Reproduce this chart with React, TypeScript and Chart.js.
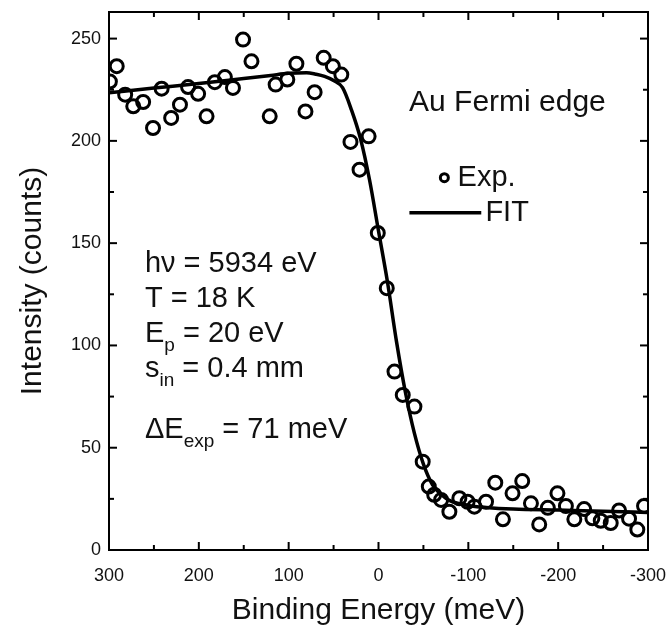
import React, { useEffect, useRef } from "react";
import { Chart, registerables } from "chart.js";

Chart.register(...registerables);

// ---- data ----
const expEnergy = [
  299, 291.4, 282, 273, 262, 251, 241.4, 230.8, 221, 212, 200.8, 191.4, 182.2, 171, 162,
  150.8, 141.4, 121.1, 114.5, 101.5, 91.4, 81.3, 71.1, 61, 50.8, 41.4, 31.2, 21.1, 11, 0.8,
  -9.2, -17.8, -27, -40, -49.2, -56, -62, -69.7, -78.9, -90, -99.2, -106.7, -119.7, -130,
  -138.5, -149.2, -160, -169.7, -178.9, -188.5, -199.2, -208.6, -218, -228.9, -238.1,
  -247.4, -258.5, -267.8, -278.9, -288.1, -295.6,
];
const expCounts = [
  229, 236.5, 222.6, 216.9, 219, 206.3, 225.5, 211.2, 217.7, 226.3, 223, 212, 228.7, 231.2, 225.9,
  249.5, 238.9, 212, 227.5, 230, 237.7, 214.4, 223.8, 240.6, 236.5, 232.4, 199.5, 185.9, 202.2, 155,
  128, 87.2, 75.8, 70.1, 43.2, 31, 27, 24.5, 18.7, 25.3, 23.6, 21.2, 23.6, 32.9,
  15, 27.7, 33.7, 22.8, 12.5, 20.6, 27.7, 21.5, 15, 20, 15.5,
  14.3, 13.2, 19.3, 15.3, 10, 21.5,
];
const fitEnergy = [
  300, 250, 200, 150, 120, 100, 80, 70, 60, 50, 40, 30, 20, 10, 0, -10, -20, -30, -40, -50,
  -60, -70, -80, -100, -120, -150, -200, -250, -300,
];
const fitCounts = [
  223.5, 225.8, 228, 230.5, 232, 233, 233.3, 232.6, 231.5, 229.5, 226, 215, 201, 181, 156, 131,
  102, 77, 57, 42, 32, 27, 24, 21.8, 20.8, 20, 19.5, 19, 18.3,
];
const xMajorTicks = [300, 200, 100, 0, -100, -200, -300];
const xMinorTicks = [250, 150, 50, -50, -150, -250];
const yMajorTicks = [0, 50, 100, 150, 200, 250];
const yMinorTicks = [25, 75, 125, 175, 225];
const xTitle = "Binding Energy (meV)";
const yTitle = "Intensity (counts)";
const boxTitle = "Au Fermi edge";
const legendLabels = ["Exp.", "FIT"];
// each info line: [main, subscript, rest]
const infoLines: [string, string, string][] = [
  ["h\u03bd = 5934 eV", "", ""],
  ["T = 18 K", "", ""],
  ["E", "p", " = 20 eV"],
  ["s", "in", " = 0.4 mm"],
  ["\u0394E", "exp", " = 71 meV"],
];

const FONT = '"Liberation Sans", Arial, Helvetica, sans-serif';
const INK = "#111";

const framePlugin = {
  id: "frameTicks",
  afterDatasetsDraw(chart: any) {
    const { ctx, chartArea, scales } = chart;
    const { left, right, top, bottom } = chartArea;
    const x = scales.x;
    const y = scales.y;
    ctx.save();
    ctx.strokeStyle = "#000";
    ctx.lineWidth = 2;
    ctx.strokeRect(left, top, right - left, bottom - top);
    const seg = (x1: number, y1: number, x2: number, y2: number) => {
      ctx.beginPath();
      ctx.moveTo(x1, y1);
      ctx.lineTo(x2, y2);
      ctx.stroke();
    };
    const major = 8;
    const minor = 5;
    xMajorTicks.forEach((v) => {
      const p = x.getPixelForValue(v);
      seg(p, bottom, p, bottom - major);
      seg(p, top, p, top + major);
    });
    xMinorTicks.forEach((v) => {
      const p = x.getPixelForValue(v);
      seg(p, bottom, p, bottom - minor);
      seg(p, top, p, top + minor);
    });
    yMajorTicks.forEach((v) => {
      const p = y.getPixelForValue(v);
      seg(left, p, left + major, p);
      seg(right, p, right - major, p);
    });
    yMinorTicks.forEach((v) => {
      const p = y.getPixelForValue(v);
      seg(left, p, left + minor, p);
      seg(right, p, right - minor, p);
    });
    ctx.restore();
  },
};

const textPlugin = {
  id: "annotations",
  afterDraw(chart: any) {
    const { ctx, scales } = chart;
    const x = scales.x;
    const y = scales.y;
    ctx.save();
    ctx.fillStyle = INK;
    ctx.textBaseline = "alphabetic";
    ctx.textAlign = "left";
    const big = 29;
    const small = 19;
    // box title
    ctx.font = `30px ${FONT}`;
    ctx.fillText(boxTitle, x.getPixelForValue(-34), y.getPixelForValue(214.5));
    ctx.font = `${big}px ${FONT}`;
    // legend
    const lx = x.getPixelForValue(-73.3);
    const ly1 = y.getPixelForValue(182);
    ctx.strokeStyle = "#000";
    ctx.lineWidth = 3;
    ctx.beginPath();
    ctx.arc(lx, ly1, 4, 0, Math.PI * 2);
    ctx.stroke();
    ctx.textBaseline = "middle";
    ctx.fillText(legendLabels[0], x.getPixelForValue(-88), ly1);
    const ly2 = y.getPixelForValue(164.9);
    ctx.lineWidth = 3.5;
    ctx.beginPath();
    ctx.moveTo(x.getPixelForValue(-34.4), ly2);
    ctx.lineTo(x.getPixelForValue(-114.4), ly2);
    ctx.stroke();
    ctx.fillText(legendLabels[1], x.getPixelForValue(-119), ly2);
    // info block
    ctx.textBaseline = "alphabetic";
    const bx = x.getPixelForValue(260);
    const baselines = [136, 119, 101.5, 84.5, 54.8];
    infoLines.forEach((parts, i) => {
      const by = y.getPixelForValue(baselines[i]);
      let cx = bx;
      ctx.font = `${big}px ${FONT}`;
      ctx.fillText(parts[0], cx, by);
      cx += ctx.measureText(parts[0]).width;
      if (parts[1]) {
        ctx.font = `${small}px ${FONT}`;
        ctx.fillText(parts[1], cx, by + 9);
        cx += ctx.measureText(parts[1]).width;
        ctx.font = `${big}px ${FONT}`;
        ctx.fillText(parts[2], cx, by);
      }
    });
    ctx.restore();
  },
};

export default function App() {
  const ref = useRef<HTMLCanvasElement | null>(null);
  useEffect(() => {
    if (!ref.current) return;
    const chart = new Chart(ref.current, {
      type: "scatter",
      data: {
        datasets: [
          {
            label: "Exp.",
            data: expEnergy.map((e, i) => ({ x: e, y: expCounts[i] })),
            showLine: false,
            pointStyle: "circle",
            pointRadius: 6.5,
            pointBorderWidth: 3,
            pointBorderColor: "#000",
            pointBackgroundColor: "rgba(0,0,0,0)",
            clip: 0,
            order: 2,
          } as any,
          {
            label: "FIT",
            data: fitEnergy.map((e, i) => ({ x: e, y: fitCounts[i] })),
            showLine: true,
            pointRadius: 0,
            borderColor: "#000",
            borderWidth: 3.5,
            cubicInterpolationMode: "monotone",
            clip: 0,
            order: 1,
          } as any,
        ],
      },
      options: {
        responsive: false,
        animation: false,
        layout: { padding: { top: 12, right: 19, left: 0, bottom: 0 } },
        plugins: { legend: { display: false }, tooltip: { enabled: false } },
        scales: {
          x: {
            type: "linear",
            min: -300,
            max: 300,
            reverse: true,
            afterBuildTicks: (s: any) => {
              s.ticks = xMajorTicks.map((v) => ({ value: v }));
            },
            afterFit: (s: any) => {
              s.height = 79;
              s.paddingLeft = 0;
              s.paddingRight = 0;
            },
            grid: { display: false },
            border: { display: false },
            ticks: {
              color: INK,
              font: { family: FONT, size: 18 },
              padding: 7,
              maxRotation: 0,
              callback: (v: any) => String(v),
            },
            title: {
              display: true,
              text: xTitle,
              color: INK,
              font: { family: FONT, size: 30 },
              padding: { top: 4, bottom: 0 },
            },
          },
          y: {
            type: "linear",
            min: 0,
            max: 263,
            afterBuildTicks: (s: any) => {
              s.ticks = yMajorTicks.map((v) => ({ value: v }));
            },
            afterFit: (s: any) => {
              s.width = 109;
              s.paddingTop = 0;
              s.paddingBottom = 0;
            },
            grid: { display: false },
            border: { display: false },
            ticks: {
              color: INK,
              font: { family: FONT, size: 18 },
              padding: 0,
              callback: (v: any) => String(v),
            },
            title: {
              display: true,
              text: yTitle,
              color: INK,
              font: { family: FONT, size: 30 },
              padding: { bottom: 0, top: 15 },
            },
          },
        },
      },
      plugins: [framePlugin, textPlugin],
    });
    return () => chart.destroy();
  }, []);
  return (
    <div style={{ position: "absolute", left: 0, top: 0, width: 667, height: 629, background: "#fff" }}>
      <canvas ref={ref} width={667} height={629} />
    </div>
  );
}
